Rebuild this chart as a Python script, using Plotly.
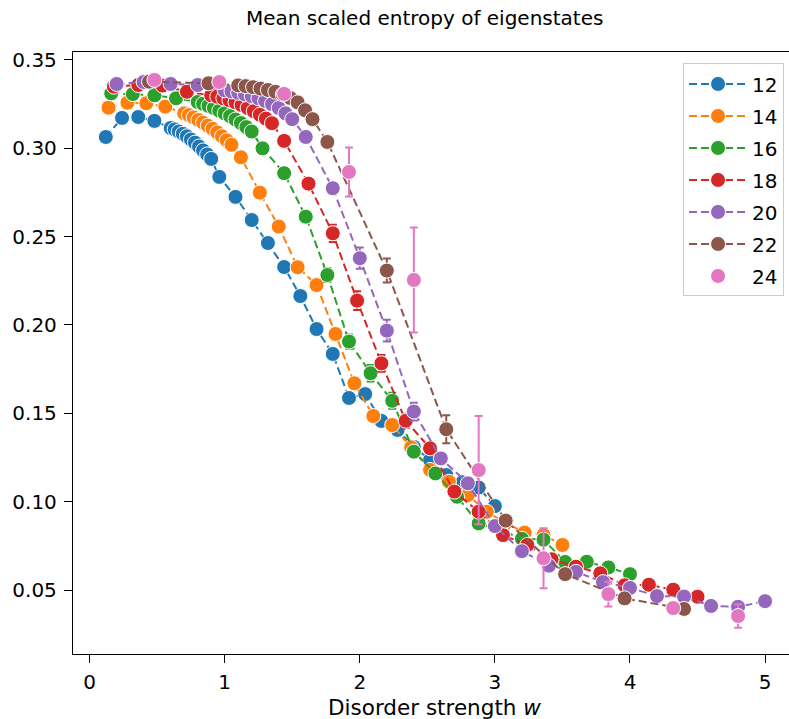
import plotly.graph_objects as go

# ---- data ----
x12 = [0.12,0.24,0.36,0.48,0.60,0.63,0.66,0.69,0.72,0.75,0.78,0.81,0.84,0.87,0.90,0.96,1.08,1.20,1.32,1.44,1.56,1.68,1.80,1.92,2.04,2.16,2.28,2.40,2.52,2.64,2.76,2.88,3.00]
y12 = [0.3064,0.3172,0.3177,0.3155,0.3115,0.3107,0.3095,0.3082,0.3068,0.3050,0.3032,0.3010,0.2988,0.2965,0.2940,0.2838,0.2725,0.2594,0.2464,0.2328,0.2164,0.1977,0.1836,0.1587,0.1609,0.1457,0.1406,0.1310,0.1236,0.1151,0.1110,0.1080,0.0975]
e12 = [0.0005]*15 + [0.001,0.001,0.001,0.0015,0.002,0.003,0.003,0.003,0.003,0.003,0.003,0.0025,0.002,0.002,0.0015,0.0015,0.0015,0.0015]

x14 = [0.14,0.28,0.42,0.56,0.700,0.735,0.770,0.805,0.840,0.875,0.910,0.945,0.980,1.015,1.050,1.12,1.26,1.40,1.54,1.68,1.82,1.96,2.10,2.24,2.38,2.52,2.66,2.80,2.94,3.08,3.22,3.36,3.50]
y14 = [0.3230,0.3258,0.3255,0.3236,0.3198,0.3188,0.3175,0.3160,0.3145,0.3128,0.3110,0.3090,0.3068,0.3045,0.3020,0.2949,0.2749,0.2557,0.2327,0.2226,0.1949,0.1670,0.1485,0.1434,0.1308,0.1180,0.1113,0.1038,0.0943,0.0880,0.0825,0.0811,0.0755]
e14 = [0.0005]*15 + [0.001,0.0015,0.002,0.003,0.003,0.003,0.003,0.003,0.003,0.0025,0.002,0.002,0.0015,0.0015,0.001,0.001,0.001,0.001]

x16 = [0.16,0.32,0.48,0.64,0.80,0.84,0.88,0.92,0.96,1.00,1.04,1.08,1.12,1.16,1.20,1.28,1.44,1.60,1.76,1.92,2.08,2.24,2.40,2.56,2.72,2.88,3.04,3.20,3.36,3.52,3.68,3.84,4.00]
y16 = [0.3311,0.3307,0.3300,0.3283,0.3262,0.3252,0.3240,0.3228,0.3213,0.3198,0.3182,0.3163,0.3143,0.3120,0.3095,0.3000,0.2859,0.2613,0.2283,0.1906,0.1727,0.1571,0.1283,0.1160,0.1028,0.0877,0.0840,0.0790,0.0785,0.0659,0.0660,0.0628,0.0590]
e16 = [0.0005]*15 + [0.001,0.0015,0.002,0.004,0.004,0.0047,0.0045,0.003,0.002,0.0015,0.0015,0.001,0.001,0.001,0.001,0.001,0.001,0.001]

x18 = [0.18,0.36,0.54,0.72,0.900,0.945,0.990,1.035,1.080,1.125,1.170,1.215,1.260,1.305,1.350,1.44,1.62,1.80,1.98,2.16,2.34,2.52,2.70,2.88,3.06,3.24,3.42,3.60,3.78,3.96,4.14,4.32,4.50]
y18 = [0.3349,0.3358,0.3355,0.3320,0.3300,0.3292,0.3283,0.3272,0.3260,0.3245,0.3228,0.3210,0.3190,0.3168,0.3142,0.3042,0.2800,0.2519,0.2138,0.1783,0.1458,0.1302,0.1057,0.0943,0.0811,0.0755,0.0674,0.0632,0.0595,0.0527,0.0530,0.0502,0.0462]
e18 = [0.0005]*15 + [0.001,0.002,0.0049,0.0053,0.0047,0.004,0.003,0.002,0.0015,0.001,0.001,0.001,0.001,0.001,0.001,0.001,0.001,0.001]

x20 = [0.2,0.4,0.6,0.8,1.00,1.05,1.10,1.15,1.20,1.25,1.30,1.35,1.40,1.45,1.50,1.6,1.8,2.0,2.2,2.4,2.6,2.8,3.0,3.2,3.4,3.6,3.8,4.0,4.2,4.4,4.6,4.8,5.0]
y20 = [0.3364,0.3375,0.3364,0.3358,0.3328,0.3322,0.3314,0.3305,0.3295,0.3283,0.3268,0.3250,0.3228,0.3198,0.3165,0.3064,0.2774,0.2378,0.1968,0.1510,0.1245,0.1104,0.0862,0.0720,0.0638,0.0603,0.0545,0.0512,0.0466,0.0463,0.0410,0.0405,0.0437]
e20 = [0.0005]*15 + [0.002,0.003,0.006,0.0062,0.005,0.003,0.002,0.0015,0.001,0.001,0.001,0.001,0.001,0.001,0.001,0.001,0.001,0.001]

x22 = [0.44,0.88,1.100,1.155,1.210,1.265,1.320,1.375,1.430,1.485,1.540,1.595,1.650,1.76,2.20,2.64,3.08,3.52,3.96,4.40]
y22 = [0.3377,0.3368,0.3356,0.3352,0.3346,0.3338,0.3330,0.3320,0.3305,0.3285,0.3260,0.3215,0.3165,0.3036,0.2308,0.1410,0.0893,0.0590,0.0453,0.0393]
e22 = [0.0005]*13 + [0.002,0.0068,0.0079,0.003,0.0015,0.001,0.001]

x24 = [0.48,0.96,1.44,1.92,2.40,2.88,3.36,3.84,4.32,4.80]
y24 = [0.3387,0.3375,0.3308,0.2866,0.2255,0.1179,0.0680,0.0477,0.0398,0.0353]
e24 = [0.001,0.001,0.002,0.0139,0.0297,0.0306,0.0170,0.0070,0.0030,0.0066]

labels = ["12", "14", "16", "18", "20", "22", "24"]
colors = ["#1f77b4", "#ff7f0e", "#2ca02c", "#d62728", "#9467bd", "#8c564b", "#e377c2"]
series = [(x12, y12, e12), (x14, y14, e14), (x16, y16, e16), (x18, y18, e18),
          (x20, y20, e20), (x22, y22, e22), (x24, y24, e24)]

FONT = "DejaVu Sans"
fig = go.Figure()
for i, ((xs, ys, es), lab, col) in enumerate(zip(series, labels, colors)):
    with_line = lab != "24"
    fig.add_trace(go.Scatter(
        x=xs, y=ys, name=lab, legendgroup=lab,
        mode="lines+markers" if with_line else "markers",
        line=dict(color=col, width=2, dash="8px,4px"),
        marker=dict(color=col, size=15, line=dict(color="white", width=1)),
        error_y=dict(type="data", array=es, visible=True, color=col, thickness=2, width=4),
    ))

fig.update_layout(
    width=789, height=719,
    margin=dict(l=73, r=0, t=52, b=65),
    paper_bgcolor="white", plot_bgcolor="white",
    font=dict(family=FONT, size=20, color="black"),
    showlegend=True,
    legend=dict(x=0.852, xanchor="left", y=0.981, yanchor="top",
                bordercolor="#cccccc", borderwidth=1, bgcolor="rgba(255,255,255,0.8)",
                font=dict(family=FONT, size=20), tracegroupgap=3, itemwidth=58),
    annotations=[
        dict(text="Mean scaled entropy of eigenstates", x=0.4916, y=1.0565,
             xref="paper", yref="paper", xanchor="center", yanchor="middle",
             showarrow=False, font=dict(family=FONT, size=20)),
        dict(text="Disorder strength <i>w</i>", x=0.505, y=-0.0897,
             xref="paper", yref="paper", xanchor="center", yanchor="middle",
             showarrow=False, font=dict(family=FONT, size=21.5)),
    ],
)
fig.update_xaxes(range=[-0.1229, 5.177], tickvals=[0, 1, 2, 3, 4, 5],
                 showline=True, linecolor="black", linewidth=1.3, mirror=True,
                 ticks="outside", ticklen=8, tickwidth=1.3, tickcolor="black",
                 ticklabelstandoff=2,
                 showgrid=False, zeroline=False)
fig.update_yaxes(range=[0.0138, 0.3545], tickvals=[0.05, 0.10, 0.15, 0.20, 0.25, 0.30, 0.35],
                 tickformat=".2f",
                 showline=True, linecolor="black", linewidth=1.3,
                 ticks="outside", ticklen=8, tickwidth=1.3, tickcolor="black",
                 ticklabelstandoff=3,
                 showgrid=False, zeroline=False)

fig.write_html("out.html")
